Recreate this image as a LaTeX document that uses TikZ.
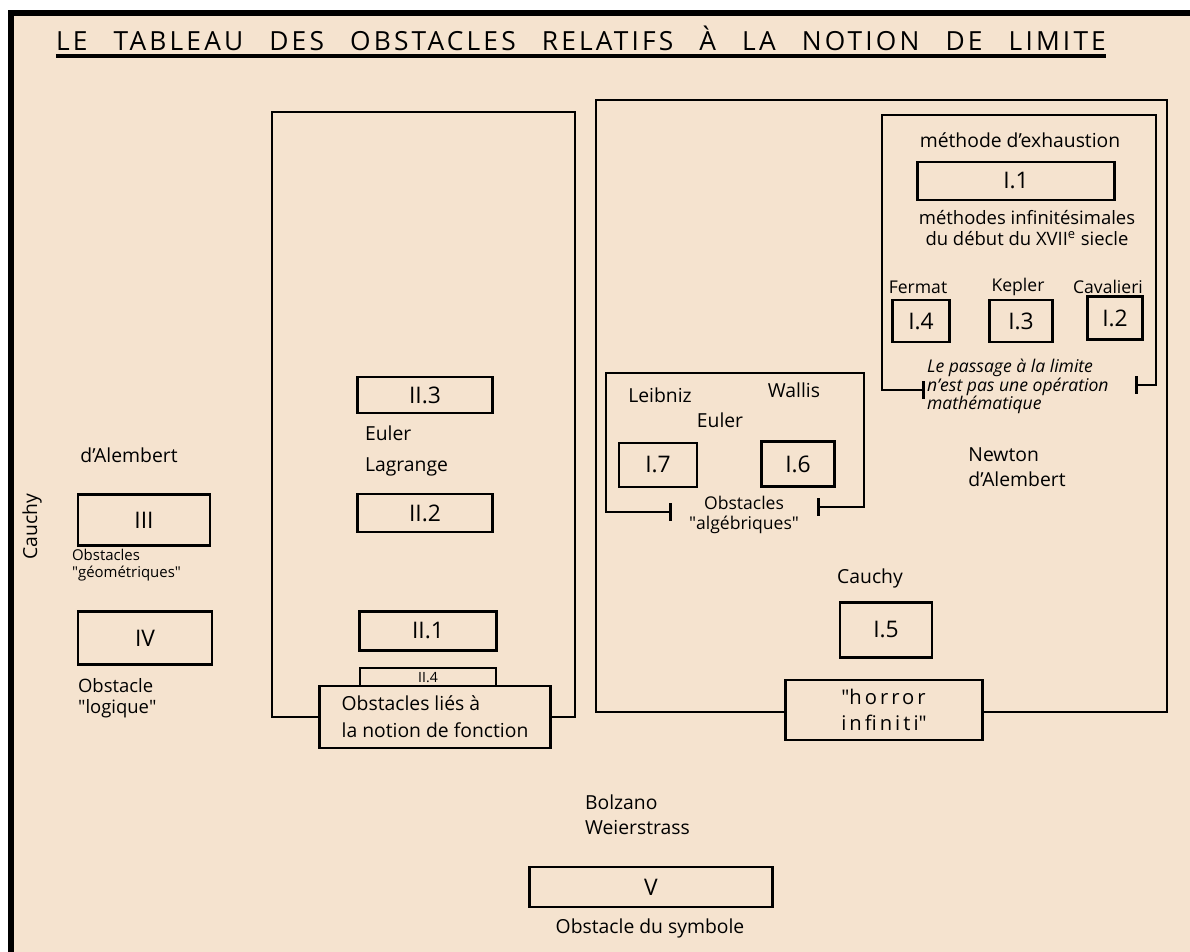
\documentclass[tikz,border=0pt]{standalone}
\usepackage{fontspec}
\setmainfont{Open Sans}
\usepackage{tikz}
\usetikzlibrary{positioning}
\definecolor{paper}{HTML}{F5E3CF}
\newcommand{\qq}{\textquotedbl}

\tikzset{
  numbox/.style={draw, line width=1.6pt, fill=paper, inner sep=0pt, font=\fontsize{13}{15}\selectfont},
  frame/.style={line width=1.6pt},
  who/.style={inner sep=1pt, font=\fontsize{11}{14}\selectfont},
  note/.style={inner sep=1pt, align=left, font=\fontsize{9.5}{11}\selectfont},
}

\begin{document}
\begin{tikzpicture}[x=0.02cm,y=-0.02cm]
  \useasboundingbox (0,0) rectangle (1190,952);
  % paper and edge
  \fill[white] (0,0) rectangle (1190,952);
  \fill[paper] (11,13) rectangle (1190,952);
  \draw[line width=3.5pt] (11,952) -- (11,13) -- (1190,13);

  % title
  \node[inner sep=0pt, font=\fontsize{15}{18}\selectfont\addfontfeatures{LetterSpace=12}] (title) at (581,38)
    {\makebox[21cm][s]{LE TABLEAU DES OBSTACLES RELATIFS À LA NOTION DE LIMITE}};
  \draw[line width=1.8pt] ([yshift=-3pt]title.south west) -- ([yshift=-3pt]title.south east);

  % left column
  \node[who] (dalemb1) at (129,455) {d'Alembert};
  \node[who, rotate=90] (cauchy1) at (32,527) {Cauchy};
  \node[numbox, minimum width=2.64cm, minimum height=1.02cm] (III) at (144,520) {III};
  \node[note, anchor=north west, font=\fontsize{8.5}{9.5}\selectfont] (geom) at (70,547) {Obstacles\\\qq géométriques\qq};
  \node[numbox, minimum width=2.68cm, minimum height=1.06cm] (IV) at (145,638) {IV};
  \node[note, anchor=north west, font=\fontsize{10.5}{12}\selectfont] (logi) at (76,676) {Obstacle\\\qq logique\qq};

  % middle frame: notion de fonction
  \draw[frame] (272,112) rectangle (575,717);
  \node[numbox, minimum width=2.7cm, minimum height=0.72cm] (IIc) at (425,395) {II.3};
  \node[who, anchor=north west, align=left, font=\fontsize{11}{17.5}\selectfont] (eulag) at (363,424) {Euler\\Lagrange};
  \node[numbox, minimum width=2.7cm, minimum height=0.76cm] (IIb) at (425,513) {II.2};
  \node[numbox, minimum width=2.74cm, minimum height=0.78cm] (IIa) at (428,631) {II.1};
  \node[numbox, minimum width=2.72cm, minimum height=0.4cm, font=\fontsize{8}{9}\selectfont] (IId) at (428,678) {II.4};
  \node[numbox, minimum width=4.62cm, minimum height=1.24cm, align=left, inner sep=3pt,
        font=\fontsize{11}{15.5}\selectfont] (fct) at (435,717) {Obstacles liés à\\la notion de fonction};

  % right frame
  \draw[frame] (596,100) rectangle (1167,712);
  \node[numbox, minimum width=3.94cm, minimum height=1.2cm, align=left,
        font=\fontsize{11.5}{15}\selectfont\addfontfeatures{LetterSpace=15}] (horror) at (884,710) {\qq horror\\ infiniti\qq};
  \node[who] (cauchy2) at (870,578) {Cauchy};
  \node[numbox, minimum width=1.84cm, minimum height=1.1cm] (Ie) at (886,630) {I.5};
  \node[who, align=left, font=\fontsize{11}{14}\selectfont] (newton) at (1017,467) {Newton\\d'Alembert};

  % algebraic obstacles
  \draw[frame, |-|] (672,512) -- (606,512) -- (606,373) -- (864,373) -- (864,507) -- (817,507);
  \node[who] (leib) at (660,395) {Leibniz};
  \node[who] (wall) at (794,390) {Wallis};
  \node[who] (euler2) at (720,420) {Euler};
  \node[numbox, minimum width=1.56cm, minimum height=0.88cm] (Ig) at (658,465) {I.7};
  \node[numbox, minimum width=1.46cm, minimum height=0.9cm] (If) at (798,464) {I.6};
  \node[note, align=center, font=\fontsize{10}{11.5}\selectfont] (alg) at (744,515) {Obstacles\\\qq algébriques\qq};

  % infinitesimal methods
  \draw[frame, |-|] (1135,385) -- (1156,385) -- (1156,115) -- (882,115) -- (882,390) -- (925,390);
  \node[who] (exh) at (1020,140) {méthode d'exhaustion};
  \node[numbox, minimum width=3.94cm, minimum height=0.76cm] (Ia) at (1016,181) {I.1};
  \node[note, align=center, font=\fontsize{10.5}{12}\selectfont] (infi) at (1027,228) {méthodes infinitésimales\\du début du XVII\textsuperscript{e} siecle};
  \node[who, font=\fontsize{10}{12}\selectfont] (ferm) at (918,287) {Fermat};
  \node[who, font=\fontsize{10}{12}\selectfont] (kepl) at (1018,287) {Kepler};
  \node[who, font=\fontsize{10}{12}\selectfont] (cava) at (1108,287) {Cavalieri};
  \node[numbox, minimum width=1.14cm, minimum height=0.84cm] (Id) at (921,321) {I.4};
  \node[numbox, minimum width=1.26cm, minimum height=0.84cm] (Ic) at (1021,321) {I.3};
  \node[numbox, minimum width=1.1cm, minimum height=0.86cm] (Ib) at (1115,318) {I.2};
  \node[note, anchor=north west, font=\itshape\fontsize{10}{10.5}\selectfont] (pass) at (925,357)
    {Le passage à la limite\\n'est pas une opération\\mathématique};

  % bottom
  \node[who, anchor=north west, align=left, font=\fontsize{11}{14}\selectfont] (bolz) at (583,793) {Bolzano\\Weierstrass};
  \node[numbox, minimum width=4.86cm, minimum height=0.8cm] (V) at (651,887) {V};
  \node[who] (symb) at (650,928) {Obstacle du symbole};
\end{tikzpicture}
\end{document}
